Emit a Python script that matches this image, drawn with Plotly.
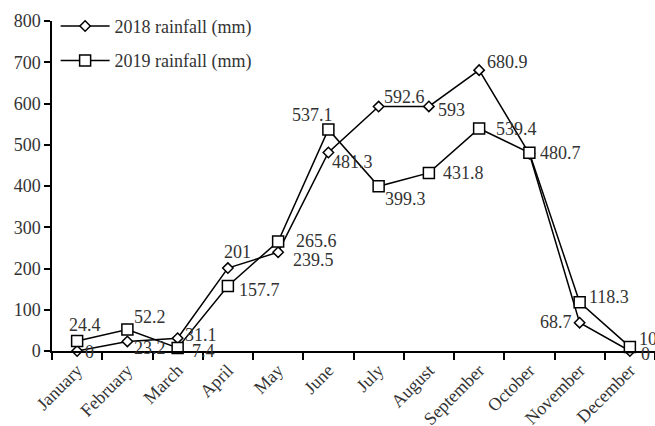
import plotly.graph_objects as go

months = ["January", "February", "March", "April", "May", "June", "July",
          "August", "September", "October", "November", "December"]
rain_2018 = [0, 23.2, 31.1, 201, 239.5, 481.3, 592.6, 593, 680.9, 478, 68.7, 0]
labels_2018 = ["0", "23.2", "31.1", "201", "239.5", "481.3", "592.6", "593", "680.9", "", "68.7", "0"]
rain_2019 = [24.4, 52.2, 7.4, 157.7, 265.6, 537.1, 399.3, 431.8, 539.4, 480.7, 118.3, 10]
labels_2019 = ["24.4", "52.2", "7.4", "157.7", "265.6", "537.1", "399.3", "431.8", "539.4", "480.7", "118.3", "10"]
y_ticks = [0, 100, 200, 300, 400, 500, 600, 700, 800]

# label placement styles (anchor, dx px, dy px down)
pos_2018 = [("left", 6, 1), ("left", 5, 7), ("left", 5, -3), ("center", 10, -16),
            ("left", 13, 8), ("left", 2, 10), ("left", 3, -10), ("left", 7, 4),
            ("left", 6, -8), ("left", 0, 0), ("right", -6, -1), ("left", 9, 3)]
pos_2019 = [("center", 8, -16), ("left", 5, -12), ("left", 12, 3), ("left", 9, 4),
            ("left", 16, 0), ("center", -16, -14), ("left", 4, 13), ("left", 12, 0),
            ("left", 15, 0), ("left", 9, 0), ("left", 7, -5), ("left", 7, -8)]

FONT = "Liberation Serif"
TXT = "#333333"

fig = go.Figure()
fig.add_trace(go.Scatter(
    x=months, y=rain_2018, name="2018 rainfall (mm)", mode="lines+markers",
    line=dict(color="black", width=1.5), cliponaxis=False,
    marker=dict(symbol="diamond", size=8, color="white", line=dict(color="black", width=1.5)),
    legendgroup="a"))
fig.add_trace(go.Scatter(
    x=months, y=rain_2019, name="2019 rainfall (mm)", mode="lines+markers",
    line=dict(color="black", width=1.5), cliponaxis=False,
    marker=dict(symbol="square", size=11, color="white", line=dict(color="black", width=1.5)),
    legendgroup="b"))

annotations = []
for vals, labs, pos in ((rain_2018, labels_2018, pos_2018), (rain_2019, labels_2019, pos_2019)):
    for m, v, t, (anc, dx, dy) in zip(months, vals, labs, pos):
        if not t:
            continue
        annotations.append(dict(x=m, y=v, xref="x", yref="y", text=t, showarrow=False,
                                xanchor=anc, yanchor="middle", xshift=dx, yshift=-dy,
                                font=dict(family=FONT, size=18, color=TXT)))

fig.update_layout(
    width=655, height=426,
    margin=dict(l=52, r=0, t=21, b=75, autoexpand=False),
    paper_bgcolor="white", plot_bgcolor="white",
    font=dict(family=FONT, size=18, color=TXT),
    showlegend=True,
    legend=dict(x=0.006, y=1.04, xanchor="left", yanchor="top", bgcolor="rgba(0,0,0,0)",
                traceorder="grouped", tracegroupgap=8, itemwidth=49,
                font=dict(family=FONT, size=18, color=TXT)),
    annotations=annotations,
)
fig.update_xaxes(type="category", range=[-0.5, 11.5], tickson="boundaries", automargin=False,
                 showline=True, linecolor="black", linewidth=1.5,
                 ticks="outside", ticklen=7, tickcolor="black", tickwidth=1.5,
                 tickangle=-45, showgrid=False, zeroline=False,
                 tickfont=dict(family=FONT, size=18, color=TXT))
fig.update_yaxes(range=[0, 800], tickvals=y_ticks, showline=True, linecolor="black", linewidth=1.5,
                 ticks="outside", ticklen=6, tickcolor="black", tickwidth=1.5, automargin=False,
                 showgrid=False, zeroline=False,
                 tickfont=dict(family=FONT, size=18, color=TXT))

fig.write_html("out.html", config={"displayModeBar": False},
               post_script="document.body.style.margin='0';document.body.style.overflow='hidden';")
